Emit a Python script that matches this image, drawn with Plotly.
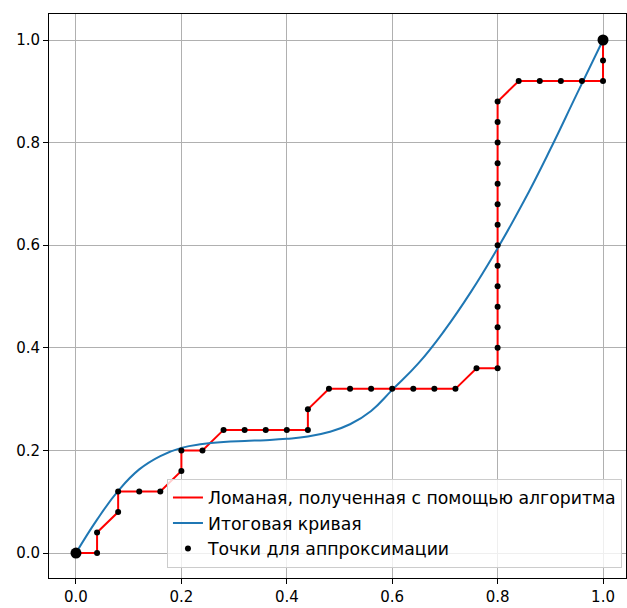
import plotly.graph_objects as go

# Polyline / approximation points
pts_x = [0.00, 0.04, 0.04, 0.08, 0.08, 0.12, 0.16, 0.20, 0.20, 0.24, 0.28, 0.32, 0.36, 0.40,
         0.44, 0.44, 0.48, 0.52, 0.56, 0.60, 0.64, 0.68, 0.72, 0.76, 0.80,
         0.80, 0.80, 0.80, 0.80, 0.80, 0.80, 0.80, 0.80, 0.80, 0.80, 0.80, 0.80, 0.80,
         0.84, 0.88, 0.92, 0.96, 1.00, 1.00, 1.00]
pts_y = [0.00, 0.00, 0.04, 0.08, 0.12, 0.12, 0.12, 0.16, 0.20, 0.20, 0.24, 0.24, 0.24, 0.24,
         0.24, 0.28, 0.32, 0.32, 0.32, 0.32, 0.32, 0.32, 0.32, 0.36, 0.36,
         0.40, 0.44, 0.48, 0.52, 0.56, 0.60, 0.64, 0.68, 0.72, 0.76, 0.80, 0.84, 0.88,
         0.92, 0.92, 0.92, 0.92, 0.92, 0.96, 1.00]

# Final smooth curve
curve_x = [0.00, 0.04, 0.08, 0.12, 0.16, 0.20, 0.24, 0.28, 0.32, 0.36, 0.40, 0.44, 0.48,
           0.52, 0.56, 0.60, 0.65, 0.70, 0.75, 0.80, 0.85, 0.90, 0.95, 1.00]
curve_y = [0.000, 0.065, 0.121, 0.163, 0.189, 0.205, 0.2125, 0.2165, 0.2185, 0.220, 0.2225, 0.227, 0.236,
           0.251, 0.277, 0.318, 0.370, 0.435, 0.510, 0.594, 0.686, 0.787, 0.894, 1.000]

tick_vals = [0.0, 0.2, 0.4, 0.6, 0.8, 1.0]
tick_text = ["0.0", "0.2", "0.4", "0.6", "0.8", "1.0"]

FONT = "DejaVu Sans"

fig = go.Figure()
fig.add_trace(go.Scatter(x=pts_x, y=pts_y, mode="lines",
                         line=dict(color="#ff0000", width=2),
                         name="Ломаная, полученная с помощью алгоритма"))
fig.add_trace(go.Scatter(x=curve_x, y=curve_y, mode="lines",
                         line=dict(color="#1f77b4", width=2, shape="spline", smoothing=1.3),
                         name="Итоговая кривая"))
fig.add_trace(go.Scatter(x=pts_x, y=pts_y, mode="markers",
                         marker=dict(color="black", size=6),
                         name="Точки для аппроксимации"))
fig.add_trace(go.Scatter(x=[pts_x[0], pts_x[-1]], y=[pts_y[0], pts_y[-1]], mode="markers",
                         marker=dict(color="black", size=11),
                         showlegend=False, hoverinfo="skip"))

axis_common = dict(
    showgrid=True, gridcolor="#b0b0b0", gridwidth=1,
    showline=True, linecolor="black", linewidth=1, mirror=True,
    ticks="outside", ticklen=5, tickcolor="black", tickwidth=1,
    zeroline=False, tickvals=tick_vals, ticktext=tick_text,
    tickfont=dict(family=FONT, size=15, color="black"),
)

fig.update_layout(
    width=627, height=608,
    margin=dict(l=49, r=1, t=14, b=30),
    plot_bgcolor="white", paper_bgcolor="white",
    xaxis=dict(range=[-0.0512, 1.0436], **axis_common),
    yaxis=dict(range=[-0.0487, 1.0507], **axis_common),
    legend=dict(x=0.993, y=0.018, xanchor="right", yanchor="bottom",
                bgcolor="rgba(255,255,255,0.8)", bordercolor="#cccccc", borderwidth=1,
                font=dict(family=FONT, size=17.3, color="black"),
                tracegroupgap=0),
    showlegend=True,
)

fig.write_html("out.html")
